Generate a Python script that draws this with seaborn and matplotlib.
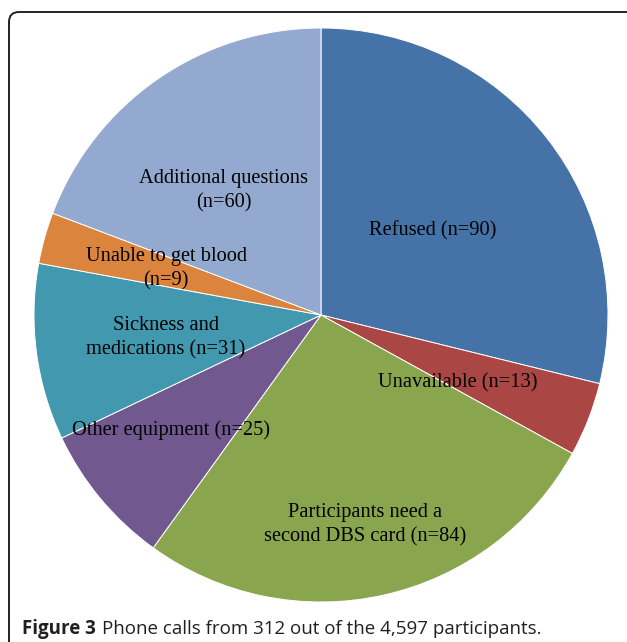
import matplotlib
matplotlib.use("Agg")
import matplotlib.pyplot as plt
from matplotlib.patches import FancyBboxPatch
import seaborn as sns

# data, clockwise from 12 o'clock
categories = ["Refused (n=90)", "Unavailable (n=13)",
              "Participants need a\nsecond DBS card (n=84)",
              "Other equipment (n=25)", "Sickness and\nmedications (n=31)",
              "Unable to get blood\n(n=9)", "Additional questions\n(n=60)"]
counts = [90, 13, 84, 25, 31, 9, 60]
colors = ["#4572A7", "#AA4643", "#89A54E", "#71588F", "#4198AF", "#DB843D", "#93A9CF"]
# where each label sits, in units of the pie radius (as placed by Excel)
label_xy = [(0.390, 0.293), (0.477, -0.236), (0.153, -0.730), (-0.523, -0.402),
            (-0.540, -0.079), (-0.540, 0.161), (-0.338, 0.433)]

sns.set_theme(style="white")
plt.rcParams["font.family"] = ["Liberation Serif", "DejaVu Serif"]

fig = plt.figure(figsize=(6.27, 6.42), dpi=100)
ax = fig.add_axes([34 / 627, 40 / 642, 574 / 627, 574 / 642])

wedges, _ = ax.pie(counts, colors=sns.color_palette(colors), startangle=90,
                   counterclock=False, radius=1,
                   wedgeprops=dict(edgecolor="white", linewidth=0.7))
for lab, (x, y) in zip(categories, label_xy):
    ax.text(x, y, lab, ha="center", va="center", fontsize=14.7,
            color="black", linespacing=1.38)
ax.set_xlim(-1, 1)
ax.set_ylim(-1, 1)
ax.set_aspect("equal")
ax.axis("off")

# frame around the figure (only top and left edges visible)
frame = FancyBboxPatch((0.09, -1.0), 7.0, 7.30,
                       boxstyle="round,pad=0,rounding_size=0.1",
                       transform=fig.dpi_scale_trans, facecolor="none",
                       edgecolor="#222222", linewidth=1.4, clip_on=False)
fig.patches.append(frame)

cap_font = ["Open Sans", "DejaVu Sans"]
y_cap = 1 - 634 / 642
t1 = fig.text(22 / 627, y_cap, "Figure 3", fontsize=13.5, fontweight="bold",
              family=cap_font, color="#231f20", va="baseline")
renderer = fig.canvas.get_renderer()
x_end = fig.transFigure.inverted().transform(t1.get_window_extent(renderer))[1, 0]
fig.text(x_end + 6 / 627, y_cap, "Phone calls from 312 out of the 4,597 participants.",
         fontsize=13.5, family=cap_font, color="#231f20", va="baseline")

fig.savefig("out.png", dpi=100)
